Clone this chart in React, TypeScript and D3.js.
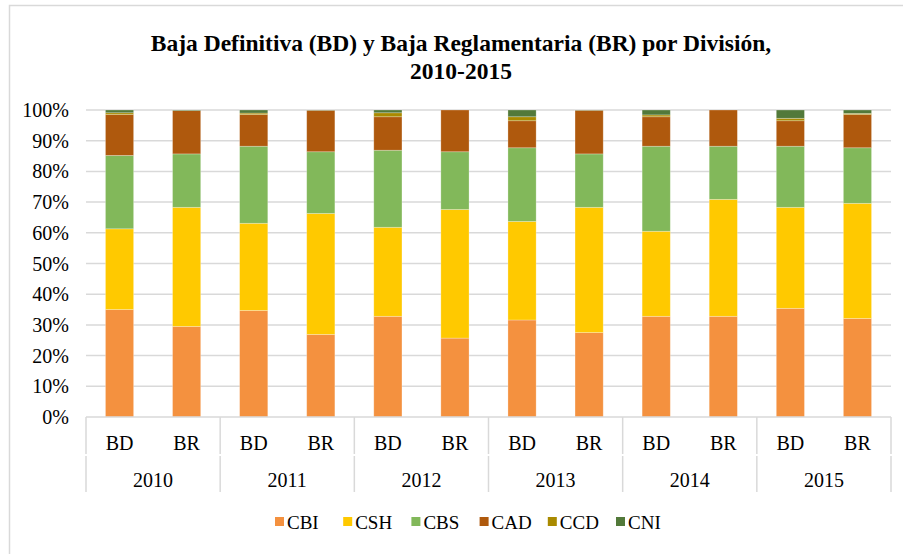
import React from "react";
import * as d3 from "d3";

const years = ["2010", "2011", "2012", "2013", "2014", "2015"];
const subcats = ["BD", "BR"];
const seriesNames = ["CBI", "CSH", "CBS", "CAD", "CCD", "CNI"];
const seriesColors = ["#F4913F", "#FFC900", "#82B85A", "#AF590D", "#A98A00", "#52793A"];

const CBI = [35.0, 29.5, 34.7, 26.9, 32.8, 25.7, 31.6, 27.5, 32.8, 32.8, 35.4, 32.1];
const CSH = [26.3, 38.8, 28.4, 39.4, 29.0, 41.9, 32.1, 40.8, 27.7, 38.1, 32.9, 37.5];
const CBS = [23.9, 17.4, 25.1, 20.1, 25.1, 18.8, 24.0, 17.4, 27.7, 17.3, 19.9, 18.1];
const CAD = [13.3, 14.1, 10.3, 13.5, 10.9, 13.6, 8.8, 14.2, 9.6, 11.8, 8.3, 10.8];
const CCD = [0.6, 0, 0.5, 0, 1.3, 0, 1.3, 0, 0.6, 0, 0.8, 0.4];
const CNI = [0.9, 0.2, 1.0, 0.1, 0.9, 0, 2.2, 0.1, 1.6, 0, 2.7, 1.1];
const yTicks = [0, 0.1, 0.2, 0.3, 0.4, 0.5, 0.6, 0.7, 0.8, 0.9, 1.0];

const seriesValues = [CBI, CSH, CBS, CAD, CCD, CNI];

export default function App() {
  const W = 903;
  const H = 554;
  const left = 86;
  const right = 891;
  const top = 110;
  const bottom = 417;
  const font = "'Liberation Serif', 'Times New Roman', serif";
  const fs = 20;

  const keys = years.flatMap((y) => subcats.map((s) => `${y}-${s}`));
  const rows = keys.map((k, i) => {
    const r: any = { key: k };
    seriesNames.forEach((n, j) => (r[n] = seriesValues[j][i]));
    return r;
  });
  const stacked = d3.stack<any>().keys(seriesNames).offset(d3.stackOffsetExpand)(rows);

  const x = d3.scaleBand<string>().domain(keys).range([left, right]).paddingInner(0.58).paddingOuter(0.29);
  const y = d3.scaleLinear().domain([0, 1]).range([bottom, top]);
  const step = (right - left) / keys.length;
  const fmt = d3.format(".0%");

  const legendX = d3.scalePoint<string>().domain(seriesNames).range([275, 616]);

  return (
    <svg width={W} height={H} style={{ position: "absolute", left: 0, top: 0, background: "#fff" }} fontFamily={font}>
      <rect x={9.5} y={5.5} width={910} height={600} fill="#fff" stroke="#d9d9d9" strokeWidth={1.5} />
      <text x={461} y={51} textAnchor="middle" fontSize={23.5} fontWeight="bold" fill="#000">
        Baja Definitiva (BD) y Baja Reglamentaria (BR) por División,
      </text>
      <text x={461} y={79} textAnchor="middle" fontSize={23.5} fontWeight="bold" fill="#000">
        2010-2015
      </text>
      {yTicks.map((t) => (
        <g key={t}>
          {t > 0 && <line x1={left} x2={right} y1={y(t)} y2={y(t)} stroke="#d9d9d9" strokeWidth={1.5} />}
          <text x={69} y={y(t)} dy="0.35em" textAnchor="end" fontSize={fs} fill="#000">
            {fmt(t)}
          </text>
        </g>
      ))}
      {stacked.map((s, si) => (
        <g key={s.key} fill={seriesColors[si]}>
          {s.map((d, i) => (
            <rect
              key={i}
              x={x(keys[i])}
              width={x.bandwidth()}
              y={y(d[1])}
              height={Math.max(0, y(d[0]) - y(d[1]))}
              stroke="#fff"
              strokeOpacity={0.35}
              strokeWidth={0.75}
            />
          ))}
        </g>
      ))}
      {/* category axis */}
      <line x1={left} x2={right} y1={bottom} y2={bottom} stroke="#d9d9d9" strokeWidth={1.5} />
      {d3.range(years.length + 1).map((i) => (
        <g key={i}>
          <line x1={left + i * 2 * step} x2={left + i * 2 * step} y1={bottom} y2={454} stroke="#d9d9d9" strokeWidth={1.5} />
          <line x1={left + i * 2 * step} x2={left + i * 2 * step} y1={456} y2={492} stroke="#d9d9d9" strokeWidth={1.5} />
        </g>
      ))}
      {keys.map((k, i) => (
        <text key={k} x={(x(k) as number) + x.bandwidth() / 2} y={443} dy="0.35em" textAnchor="middle" fontSize={fs} fill="#000">
          {subcats[i % 2]}
        </text>
      ))}
      {years.map((yr, i) => (
        <text key={yr} x={left + (i * 2 + 1) * step} y={480} dy="0.35em" textAnchor="middle" fontSize={fs} fill="#000">
          {yr}
        </text>
      ))}
      {seriesNames.map((n, i) => (
        <g key={n} transform={`translate(${legendX(n)},522)`}>
          <rect x={0} y={-5} width={9} height={9} fill={seriesColors[i]} />
          <text x={12} y={0} dy="0.35em" fontSize={19} fill="#000">
            {n}
          </text>
        </g>
      ))}
    </svg>
  );
}
